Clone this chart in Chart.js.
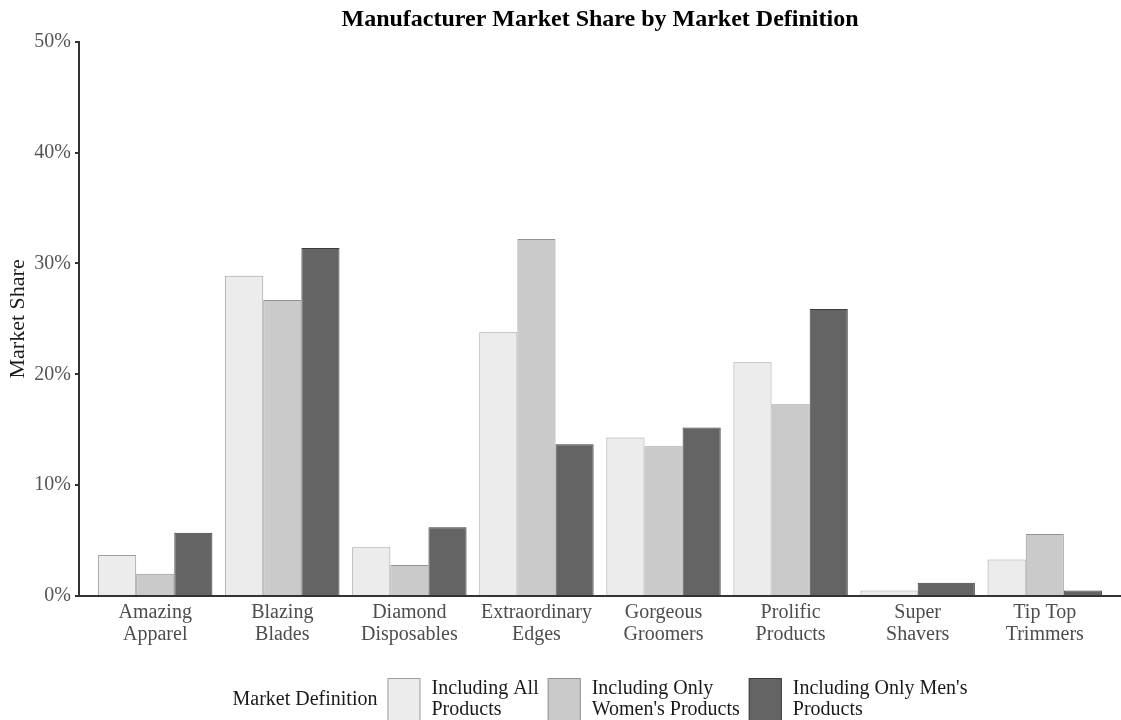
<!DOCTYPE html>
<html>
<head>
<meta charset="utf-8">
<script src="https://cdn.jsdelivr.net/npm/chart.js@4/dist/chart.umd.min.js"></script>
<style>
  html, body { margin: 0; padding: 0; background: #fff; }
</style>
</head>
<body>
<canvas id="share-chart" width="1121" height="720"></canvas>
<script>
// Manufacturers on the x axis (two-line tick labels)
const manufacturers = [
    ['Amazing', 'Apparel'],
    ['Blazing', 'Blades'],
    ['Diamond', 'Disposables'],
    ['Extraordinary', 'Edges'],
    ['Gorgeous', 'Groomers'],
    ['Prolific', 'Products'],
    ['Super', 'Shavers'],
    ['Tip Top', 'Trimmers']
];

// Market share in percent
const allProducts    = [3.7, 28.9, 4.4, 23.8, 14.3, 21.1, 0.5, 3.3];
const womensProducts = [2.0, 26.7, 2.8, 32.2, 13.5, 17.3, null, 5.6];
const mensProducts   = [5.7, 31.4, 6.2, 13.7, 15.2, 25.9, 1.2, 0.5];

const seriesNames = [
    'Including All Products',
    "Including Only Women's Products",
    "Including Only Men's Products"
];
const legendLines = [
    ['Including All', 'Products'],
    ['Including Only', "Women's Products"],
    ["Including Only Men's", 'Products']
];
const yTicks = [0, 10, 20, 30, 40, 50];

const serif = '"Liberation Serif", "Times New Roman", serif';

// legend with the title on the left and two-line labels, drawn under the axis
const bottomLegend = {
    id: 'bottomLegend',
    afterDraw(chart) {
        const ctx = chart.ctx;
        const area = chart.chartArea;
        const sets = chart.data.datasets;
        const boxW = 33, boxH = 44, gapTitle = 10, gapText = 11, gapItem = 9, lineH = 21;
        const title = 'Market Definition';

        ctx.save();
        ctx.font = '20px ' + serif;
        ctx.textBaseline = 'middle';
        ctx.textAlign = 'left';
        ctx.fillStyle = '#1a1a1a';

        const widths = legendLines.map(lines => Math.max(...lines.map(l => ctx.measureText(l).width)));
        let total = ctx.measureText(title).width + gapTitle;
        widths.forEach((w, i) => {
            total += boxW + gapText + w + (i < widths.length - 1 ? gapItem : 0);
        });

        let x = (area.left + area.right) / 2 - total / 2;
        const top = chart.scales.x.bottom + 32;
        ctx.fillText(title, x, top + 22);
        x += ctx.measureText(title).width + gapTitle;

        sets.forEach((ds, i) => {
            ctx.fillStyle = ds.backgroundColor;
            ctx.fillRect(x, top, boxW, boxH);
            ctx.strokeStyle = ds.borderColor;
            ctx.lineWidth = 1;
            ctx.strokeRect(x + 0.5, top + 0.5, boxW - 1, boxH - 1);
            x += boxW + gapText;
            ctx.fillStyle = '#1a1a1a';
            legendLines[i].forEach((line, j) => {
                ctx.fillText(line, x, top + 11 + j * lineH);
            });
            x += widths[i] + gapItem;
        });
        ctx.restore();
    }
};

const ctx = document.getElementById('share-chart').getContext('2d');
new Chart(ctx, {
    type: 'bar',
    data: {
        labels: manufacturers,
        datasets: [
            {
                label: seriesNames[0],
                data: allProducts,
                backgroundColor: '#ececec',
                borderColor: '#9f9f9f',
                borderWidth: 1,
                skipNull: true
            },
            {
                label: seriesNames[1],
                data: womensProducts,
                backgroundColor: '#cacaca',
                borderColor: '#939393',
                borderWidth: 1,
                skipNull: true
            },
            {
                label: seriesNames[2],
                data: mensProducts,
                backgroundColor: '#646464',
                borderColor: '#3d3d3d',
                borderWidth: 1,
                skipNull: true
            }
        ]
    },
    options: {
        responsive: false,
        animation: false,
        layout: {
            padding: { left: 0, right: 0, top: 0, bottom: 74 }
        },
        datasets: {
            bar: {
                categoryPercentage: 0.9,
                barPercentage: 1.0
            }
        },
        plugins: {
            legend: { display: false },
            tooltip: { enabled: false },
            title: {
                display: true,
                fullSize: false,
                text: 'Manufacturer Market Share by Market Definition',
                color: '#000',
                font: { family: serif, size: 24, weight: 'bold', lineHeight: 1.2 },
                padding: { top: 5, bottom: 8 }
            }
        },
        scales: {
            x: {
                offset: true,
                grid: { display: false, drawTicks: false },
                border: { display: true, color: '#333', width: 2 },
                ticks: {
                    color: '#4d4d4d',
                    padding: 6,
                    maxRotation: 0,
                    autoSkip: false,
                    font: { family: serif, size: 20, lineHeight: 1.1 }
                },
                // ggplot-style discrete expansion: 0.6 of a category on each side
                afterBuildTicks(scale) {
                    scale._startValue = -0.6;
                    scale._valueRange = manufacturers.length + 0.2;
                },
                afterFit(scale) {
                    scale.height = 50;
                }
            },
            y: {
                min: 0,
                max: 50,
                afterBuildTicks(scale) {
                    scale.ticks = yTicks.map(v => ({ value: v }));
                },
                grid: {
                    display: true,
                    drawOnChartArea: false,
                    drawTicks: true,
                    tickLength: 4,
                    color: '#333',
                    lineWidth: 2
                },
                border: { display: true, color: '#333', width: 2 },
                ticks: {
                    color: '#555',
                    padding: 4,
                    font: { family: serif, size: 20 },
                    callback: v => v + '%'
                },
                title: {
                    display: true,
                    text: 'Market Share',
                    color: '#1a1a1a',
                    font: { family: serif, size: 22, lineHeight: 1.2 },
                    padding: { top: 5, bottom: 0 }
                },
                afterFit(scale) {
                    scale.width = 79;
                }
            }
        }
    },
    plugins: [bottomLegend]
});
</script>
</body>
</html>
